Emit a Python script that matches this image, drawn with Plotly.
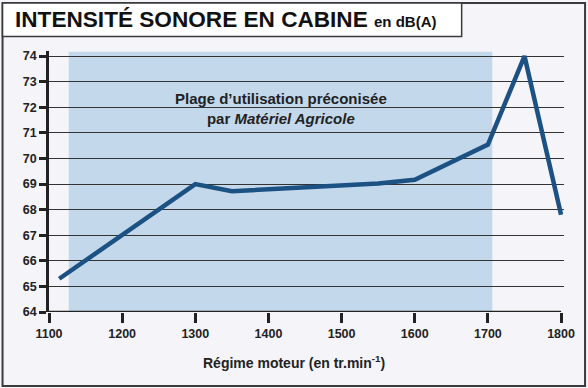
import plotly.graph_objects as go

# Data
regime = [1114, 1200, 1300, 1350, 1550, 1600, 1700, 1750, 1800]
intensite = [65.3, 67.0, 69.0, 68.72, 69.02, 69.17, 70.54, 74.0, 67.8]
x_ticks = [1100, 1200, 1300, 1400, 1500, 1600, 1700, 1800]
y_ticks = [64, 65, 66, 67, 68, 69, 70, 71, 72, 73, 74]
plage_start, plage_end = 1127, 1706
plage_top = 74.17
x_min, x_max, x_view_max = 1100, 1800, 1804
y_min, y_view_max = 64, 74.2

W, H = 588, 388
L, T, B = 49, 50.6, 76
R = 588 - (49 + 512.5 * (x_view_max - x_min) / (x_max - x_min))
pw = W - L - R
ph = H - T - B


def px(x):
    return (x - L) / pw


def py(y):
    return (H - B - y) / ph


FONT = "Liberation Sans, Arial, Helvetica, sans-serif"
INK = "#222222"

fig = go.Figure()
fig.add_trace(go.Scatter(
    x=regime, y=intensite, mode="lines",
    line=dict(color="#1c5183", width=4.5),
    hoverinfo="skip", showlegend=False,
))

shapes = [
    # outer frame
    dict(type="rect", xref="paper", yref="paper",
         x0=px(2.5), x1=px(585.5), y0=py(386), y1=py(2.5),
         line=dict(color="#3a3a3a", width=2), fillcolor="rgba(0,0,0,0)",
         layer="below"),
    # title box
    dict(type="rect", xref="paper", yref="paper",
         x0=px(2.5), x1=px(462), y0=py(36), y1=py(2.5),
         line=dict(color="#3a3a3a", width=1.5), fillcolor="#ffffff",
         layer="below"),
    # recommended range
    dict(type="rect", xref="x", yref="y",
         x0=plage_start, x1=plage_end, y0=y_min, y1=plage_top,
         line=dict(width=0), fillcolor="#c4d8ec", layer="below"),
    # x axis line (stops at 1800)
    dict(type="line", xref="x", yref="y",
         x0=x_min, x1=x_max, y0=y_min, y1=y_min,
         line=dict(color=INK, width=2.5), layer="above"),
]

annotations = [
    dict(xref="paper", yref="paper", x=px(13), y=py(19.5),
         xanchor="left", yanchor="middle", showarrow=False,
         text="INTENSITÉ SONORE EN CABINE <span style='font-size:15px'>en dB(A)</span>",
         font=dict(family=FONT, size=22.6, color="#111111", weight="bold")),
    dict(xref="paper", yref="paper", x=px(281.5), y=py(108),
         xanchor="center", yanchor="middle", showarrow=False,
         text="Plage d’utilisation préconisée<br>par <i>Matériel Agricole</i>",
         font=dict(family=FONT, size=15, color=INK, weight="bold")),
    dict(xref="paper", yref="paper", x=px(294), y=py(362),
         xanchor="center", yanchor="middle", showarrow=False,
         text="Régime moteur (en tr.min<sup>-1</sup>)",
         font=dict(family=FONT, size=14, color=INK, weight="bold")),
]

fig.update_layout(
    width=W, height=H,
    margin=dict(l=L, r=R, t=T, b=B, pad=0),
    paper_bgcolor="#f5f4f8",
    plot_bgcolor="rgba(0,0,0,0)",
    shapes=shapes,
    annotations=annotations,
    showlegend=False,
    xaxis=dict(
        range=[x_min, x_view_max], tickvals=x_ticks,
        showgrid=False, zeroline=False,
        showline=False,
        ticks="outside", ticklen=10, tickwidth=2.5, tickcolor=INK,
        tickfont=dict(family=FONT, size=12.5, color=INK, weight="bold"),
        fixedrange=True,
    ),
    yaxis=dict(
        range=[y_min, y_view_max], tickvals=y_ticks,
        showgrid=True, gridcolor="#333333", gridwidth=1.3,
        zeroline=False,
        showline=True, linecolor=INK, linewidth=2.5,
        ticks="outside", ticklen=7, tickwidth=2.5, tickcolor=INK,
        tickfont=dict(family=FONT, size=12.5, color=INK, weight="bold"),
        fixedrange=True,
    ),
)

fig.write_html(
    "out.html",
    config={"displayModeBar": False},
    post_script="document.body.style.margin='0';document.body.style.overflow='hidden';",
)
